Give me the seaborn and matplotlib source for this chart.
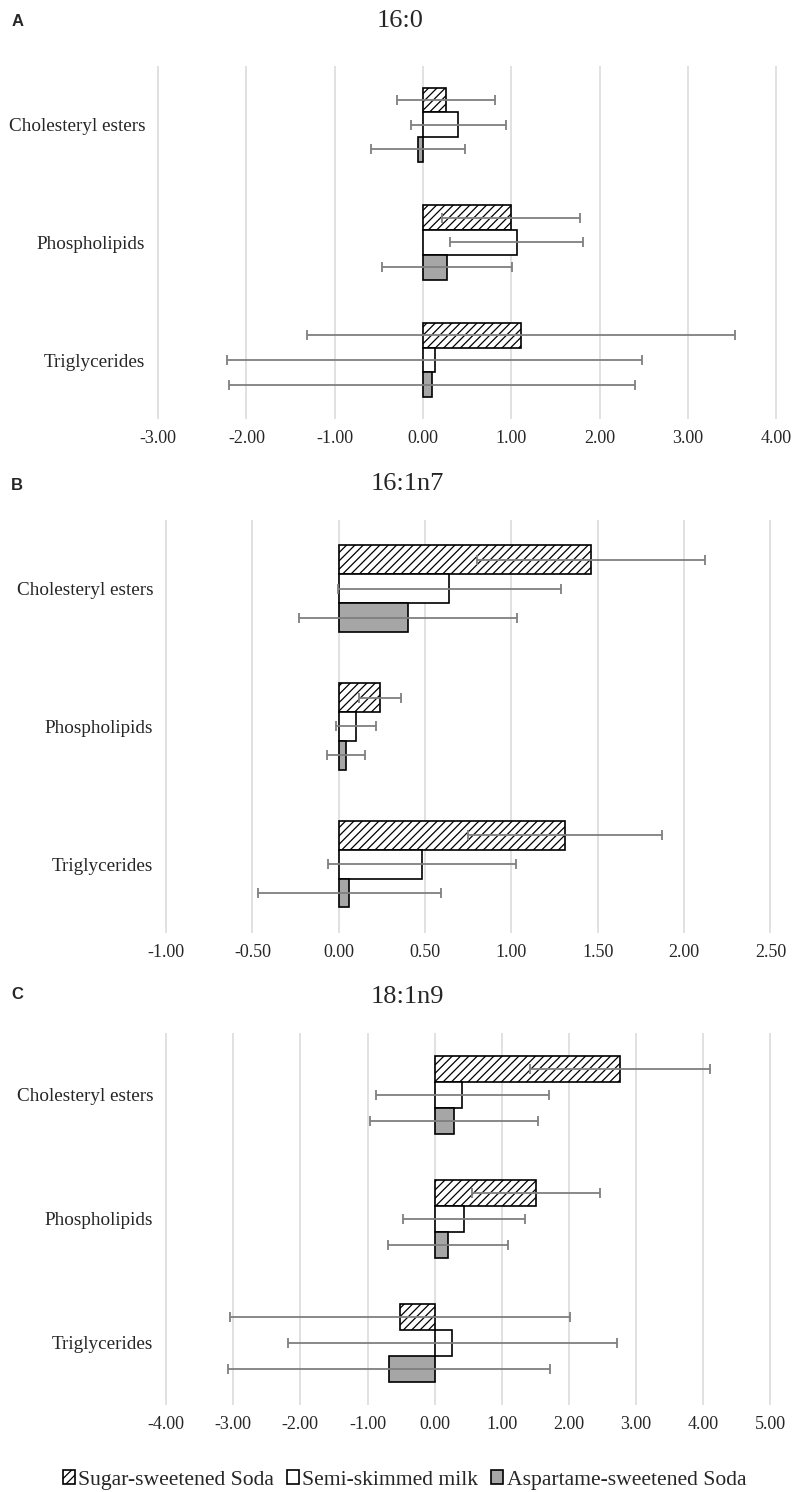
import numpy as np
import pandas as pd
import matplotlib
matplotlib.use("Agg")
import matplotlib.pyplot as plt
import seaborn as sns

# categories and groups
lipids = ["Cholesteryl esters", "Phospholipids", "Triglycerides"]
drinks = ["Sugar-sweetened Soda", "Semi-skimmed milk", "Aspartame-sweetened Soda"]

# Panel A: 16:0
a_sugar = [0.26, 1.00, 1.11]
a_sugar_err = [0.555, 0.78, 2.42]
a_milk = [0.40, 1.06, 0.13]
a_milk_err = [0.535, 0.755, 2.35]
a_asp = [-0.06, 0.27, 0.10]
a_asp_err = [0.53, 0.735, 2.30]

# Panel B: 16:1n7
b_sugar = [1.46, 0.24, 1.31]
b_sugar_err = [0.66, 0.12, 0.56]
b_milk = [0.64, 0.10, 0.48]
b_milk_err = [0.645, 0.115, 0.545]
b_asp = [0.40, 0.04, 0.06]
b_asp_err = [0.63, 0.11, 0.53]

# Panel C: 18:1n9
c_sugar = [2.76, 1.51, -0.52]
c_sugar_err = [1.34, 0.95, 2.53]
c_milk = [0.41, 0.44, 0.26]
c_milk_err = [1.285, 0.91, 2.45]
c_asp = [0.29, 0.20, -0.68]
c_asp_err = [1.255, 0.89, 2.40]

sns.set_style("white")
plt.rcParams['font.family'] = ['Liberation Serif', 'DejaVu Serif']
plt.rcParams['axes.unicode_minus'] = False
plt.rcParams['hatch.linewidth'] = 0.9

palette = {drinks[0]: "white", drinks[1]: "white", drinks[2]: "#a6a6a6"}


def make_frame(sugar, milk, asp):
    rows = []
    for drink, vals in zip(drinks, [sugar, milk, asp]):
        for lipid, v in zip(lipids, vals):
            rows.append({"lipid": lipid, "drink": drink, "value": v})
    return pd.DataFrame(rows)


def draw_panel(ax, sugar, milk, asp, errs, ticks):
    df = make_frame(sugar, milk, asp)
    sns.barplot(data=df, x="value", y="lipid", hue="drink", orient="h",
                palette=palette, saturation=1, width=0.63, gap=0,
                edgecolor="black", linewidth=1.2, legend=False, ax=ax)
    bars = list(ax.containers)
    for bar in bars[0].patches:
        bar.set_hatch("////")
    # error bars on top of the bars
    for cont, vals, err in zip(bars, [sugar, milk, asp], errs):
        ys = [b.get_y() + b.get_height() / 2 for b in cont.patches]
        ax.errorbar(vals, ys, xerr=err, fmt="none", ecolor="#7f7f7f",
                    elinewidth=1.3, capsize=3.8, capthick=1.3, zorder=4)
    ax.set_xlim(ticks[0] - 0.005 * (ticks[-1] - ticks[0]),
                ticks[-1] + 0.005 * (ticks[-1] - ticks[0]))
    ax.set_ylim(2.5, -0.5)
    ax.set_xticks(ticks)
    ax.set_xticklabels([f"{t:.2f}" for t in ticks])
    ax.xaxis.grid(True, color="#d9d9d9", linewidth=1.1)
    ax.yaxis.grid(False)
    ax.set_axisbelow(True)
    for s in ax.spines.values():
        s.set_visible(False)
    ax.tick_params(axis="x", length=0, pad=8, labelsize=13)
    ax.tick_params(axis="y", length=0, pad=7, labelsize=13.8)
    ax.set_xlabel("")
    ax.set_ylabel("")
    return bars


fig = plt.figure(figsize=(7.98, 14.92), dpi=100)

ax_a = fig.add_axes([0.1942, 0.7192, 0.7826, 0.2366])
draw_panel(ax_a, a_sugar, a_milk, a_asp, [a_sugar_err, a_milk_err, a_asp_err],
           np.arange(-3, 4.01, 1.0))

ax_b = fig.add_axes([0.2043, 0.3747, 0.7650, 0.2768])
draw_panel(ax_b, b_sugar, b_milk, b_asp, [b_sugar_err, b_milk_err, b_asp_err],
           np.arange(-1, 2.51, 0.5))

ax_c = fig.add_axes([0.2043, 0.0583, 0.7650, 0.2495])
c_bars = draw_panel(ax_c, c_sugar, c_milk, c_asp, [c_sugar_err, c_milk_err, c_asp_err],
                    np.arange(-4, 5.01, 1.0))

# titles and panel letters
fig.text(0.502, 0.9860, "16:0", ha="center", va="center", fontsize=19)
fig.text(0.511, 0.6755, "16:1n7", ha="center", va="center", fontsize=19)
fig.text(0.511, 0.3315, "18:1n9", ha="center", va="center", fontsize=19)
for lbl, y in [("A", 0.9855), ("B", 0.6745), ("C", 0.3335)]:
    fig.text(0.014, y, lbl, ha="left", va="center", fontsize=12,
             fontweight="bold", family=["Liberation Sans", "DejaVu Sans"])

handles = [c.patches[0] for c in c_bars]
fig.legend(handles, drinks, loc="center", bbox_to_anchor=(0.507, 0.008),
           ncol=3, frameon=False, fontsize=15.6, handlelength=0.55,
           handleheight=0.55, handletextpad=0.15, columnspacing=0.6)

fig.savefig("out.png", dpi=100)
